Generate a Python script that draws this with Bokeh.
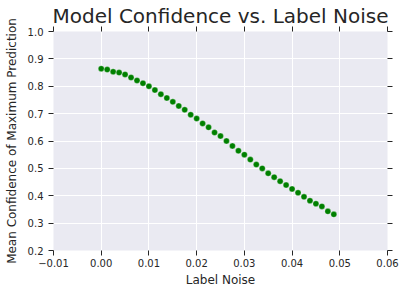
from bokeh.plotting import figure
from bokeh.models import (LinearAxis, FixedTicker, CustomJSTickFormatter,
                          ColumnDataSource, Range1d)
from bokeh.embed import file_html
from bokeh.resources import INLINE

# ---- data ----
label_noise = [0.0, 0.00125, 0.0025, 0.00375, 0.005, 0.00625, 0.0075, 0.00875,
               0.01, 0.01125, 0.0125, 0.01375, 0.015, 0.01625, 0.0175, 0.01875,
               0.02, 0.02125, 0.0225, 0.02375, 0.025, 0.02625, 0.0275, 0.02875,
               0.03, 0.03125, 0.0325, 0.03375, 0.035, 0.03625, 0.0375, 0.03875,
               0.04, 0.04125, 0.0425, 0.04375, 0.045, 0.04625, 0.0475, 0.04875]
mean_confidence = [0.864, 0.861, 0.853, 0.850, 0.843, 0.832, 0.821, 0.811,
                   0.800, 0.786, 0.771, 0.757, 0.743, 0.728, 0.714, 0.696,
                   0.682, 0.664, 0.650, 0.631, 0.618, 0.600, 0.582, 0.564,
                   0.550, 0.532, 0.514, 0.500, 0.482, 0.468, 0.453, 0.439,
                   0.425, 0.411, 0.396, 0.382, 0.371, 0.361, 0.343, 0.332]
x_ticks = [-0.01, 0.0, 0.01, 0.02, 0.03, 0.04, 0.05, 0.06]
y_ticks = [0.2, 0.3, 0.4, 0.5, 0.6, 0.7, 0.8, 0.9, 1.0]
title_text = "Model Confidence vs. Label Noise"
x_label = "Label Noise"
y_label = "Mean Confidence of Maximum Prediction"

TXT = "#262626"
FONT = "DejaVu Sans"

p = figure(width=406, height=295, output_backend="svg", toolbar_location=None,
           title=None,
           x_range=Range1d(-0.01, 0.06), y_range=Range1d(0.2, 1.0),
           min_border_left=53, min_border_right=19, min_border_top=27,
           min_border_bottom=45, x_axis_location=None, y_axis_location=None)
p.background_fill_color = "#EAEAF2"
p.border_fill_color = "white"
p.outline_line_color = None

xfmt = CustomJSTickFormatter(code="return tick.toFixed(2).replace('-', '\u2212');")
yfmt = CustomJSTickFormatter(code="return tick.toFixed(1);")
blank = CustomJSTickFormatter(code="return '';")

def style(ax, ticks, fmt, standoff, size="10px"):
    ax.ticker = FixedTicker(ticks=ticks)
    ax.formatter = fmt
    ax.axis_line_color = None
    ax.major_tick_line_color = TXT
    ax.major_tick_line_width = 1
    ax.major_tick_out = 5
    ax.major_tick_in = 0
    ax.minor_tick_line_color = None
    ax.major_label_text_font = FONT
    ax.major_label_text_font_size = size
    ax.major_label_text_color = TXT
    ax.major_label_standoff = standoff
    ax.axis_label_text_font = FONT
    ax.axis_label_text_font_size = "12px"
    ax.axis_label_text_font_style = "normal"
    ax.axis_label_text_color = TXT

xb = LinearAxis(axis_label=x_label)
xt = LinearAxis(axis_label=title_text)   # top ticks; carries the chart title
yl = LinearAxis(axis_label=y_label)
yr = LinearAxis()
style(xb, x_ticks, xfmt, 3)
style(xt, x_ticks, blank, 0, "0px")
style(yl, y_ticks, yfmt, 5)
style(yr, y_ticks, blank, 0, "0px")
xb.axis_label_standoff = 3
yl.axis_label_standoff = 6
xt.axis_label_text_font_size = "20px"
xt.axis_label_standoff = -1
p.add_layout(xb, "below")
p.add_layout(xt, "above")
p.add_layout(yl, "left")
p.add_layout(yr, "right")

p.xgrid.ticker = FixedTicker(ticks=x_ticks)
p.ygrid.ticker = FixedTicker(ticks=y_ticks)
for g in (p.xgrid, p.ygrid):
    g.grid_line_color = "white"
    g.grid_line_width = 1

src = ColumnDataSource(data=dict(x=label_noise, y=mean_confidence))
p.scatter("x", "y", source=src, size=6, fill_color="#008000",
          line_color="white", line_width=0.5, line_alpha=0.6)

open("out.html", "w").write(file_html(p, INLINE))
